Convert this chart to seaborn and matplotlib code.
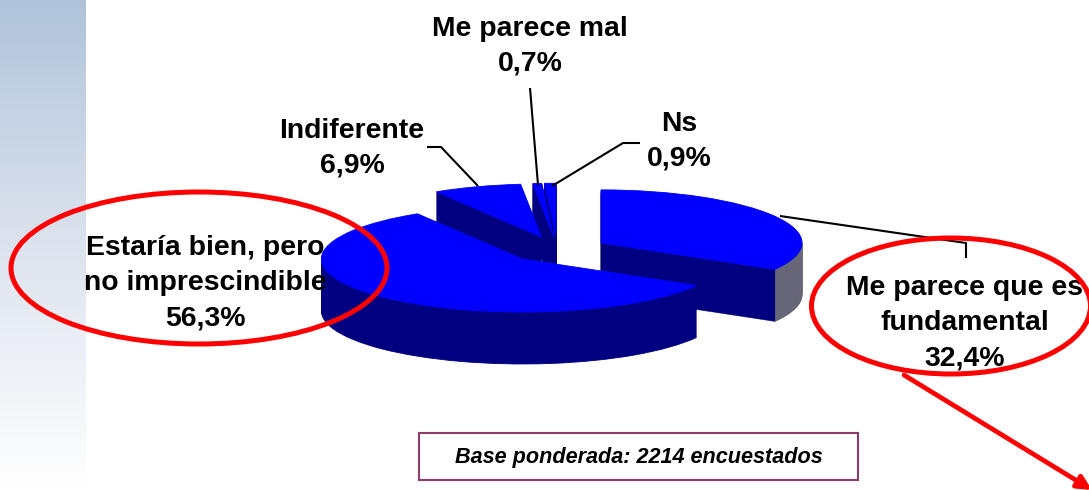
import numpy as np
import matplotlib
matplotlib.use('Agg')
import matplotlib.pyplot as plt
from matplotlib.patches import Ellipse, Rectangle
import seaborn as sns

# slices, clockwise from 12 o'clock
labels = ['Me parece que es\nfundamental', 'Estaría bien, pero\nno imprescindible', 'Indiferente', 'Me parece mal', 'Ns']
values = [32.4, 56.3, 6.9, 0.7, 0.9]
pct_labels = ['32,4%', '56,3%', '6,9%', '0,7%', '0,9%']
base_note = 'Base ponderada: 2214 encuestados'

sns.set_theme(style='white')
plt.rcParams['font.family'] = ['Liberation Sans', 'DejaVu Sans']

W, H = 1089, 490
fig = plt.figure(figsize=(W / 100, H / 100), dpi=100, facecolor='white')

# gradient band on the left
bg = fig.add_axes([0, 0, 85 / W, 1])
grad = sns.blend_palette(['#B0C3DA', '#DDE3EE', '#FFFFFF'], n_colors=256, as_cmap=True)
bg.imshow(np.linspace(0, 1, 256).reshape(-1, 1), cmap=grad, aspect='auto')
bg.axis('off')

# pie axes: one data unit is the radius, squashed to look tilted
cx, cy = 557.5, 249.5
rx, ry = 201, 53
depth = 52
ax = fig.add_axes([0, 0, 1, 1])
ax.patch.set_alpha(0)

top_col, side_col, rim_col = '#0000FF', '#000080', '#666678'
order = {0: 40, 1: 50, 2: 30, 3: 20, 4: 10}  # painter order per slice
explode = [0.25] * len(values)


def pie_layer(offset, cols):
    wedges, _ = ax.pie(values, explode=explode, radius=1, center=(0, -offset / ry),
                       startangle=90, counterclock=False, colors=cols)
    for w, c in zip(wedges, cols):
        w.set_edgecolor(c)
        w.set_linewidth(0.6)
    return wedges


# side walls, first slice gets the grey rim
side_cols = [rim_col] + [side_col] * (len(values) - 1)
for d in range(depth, 0, -1):
    for i, w in enumerate(pie_layer(d, side_cols)):
        w.set_zorder(order[i] + 0.001 * (depth - d))

top = pie_layer(0, [top_col] * len(values))
for i, w in enumerate(top):
    w.set_zorder(order[i] + 1)

# cut face of the first slice, from the wedge apex to its front corner
w0 = top[0]
x0, y0 = w0.center
x1 = x0 + np.cos(np.radians(w0.theta1))
y1 = y0 + np.sin(np.radians(w0.theta1))
drop = depth / ry
ax.fill([x0, x1, x1, x0], [y0, y1, y1 - drop, y0 - drop], color=side_col, lw=0, zorder=order[0] + 0.5)

ax.set_aspect('auto')
ax.set_xlim(-cx / rx, (W - cx) / rx)
ax.set_ylim((cy - H) / ry, cy / ry)
ax.axis('off')

# overlay in pixel coordinates for labels and drawn shapes
ov = fig.add_axes([0, 0, 1, 1], zorder=5)
ov.patch.set_alpha(0)
ov.set_xlim(0, W)
ov.set_ylim(H, 0)
ov.axis('off')

fs = 20.4
label_pos = [(965, 323), (205, 283), (352, 148), (530, 46), (679, 141)]
for lab, pct, (x, y) in zip(labels, pct_labels, label_pos):
    ov.text(x, y, lab + '\n' + pct, ha='center', va='center', fontsize=fs,
            fontweight='bold', color='black', linespacing=1.45, zorder=3)

leaders = [
    ([780, 966, 966], [216, 243, 258]),
    ([427, 441, 478], [147, 147, 186]),
    ([530, 538], [88, 185]),
    ([552, 623, 640], [186, 143, 143]),
]
for xs, ys in leaders:
    ov.plot(xs, ys, color='black', lw=1.5, solid_capstyle='butt', zorder=2)

ov.add_patch(Ellipse((199, 268), 376, 152, fill=False, ec='#FF0000', lw=3.6, zorder=4))
ov.add_patch(Ellipse((951, 306), 279, 136, fill=False, ec='#FF0000', lw=3.6, zorder=4))
ov.annotate('', xy=(1092, 490), xytext=(904, 375), annotation_clip=False,
            arrowprops=dict(arrowstyle='-|>,head_length=0.7,head_width=0.35', color='#FF0000',
                            lw=3.4, shrinkA=0, shrinkB=0), zorder=4)

ov.add_patch(Rectangle((419, 433), 439, 47, fc='white', ec='#8E3B6B', lw=1.5, zorder=2))
ov.text(639, 457, base_note, ha='center', va='center', fontsize=15.6,
        fontweight='bold', fontstyle='italic', color='black', zorder=3)

fig.savefig('out.png', dpi=100)
